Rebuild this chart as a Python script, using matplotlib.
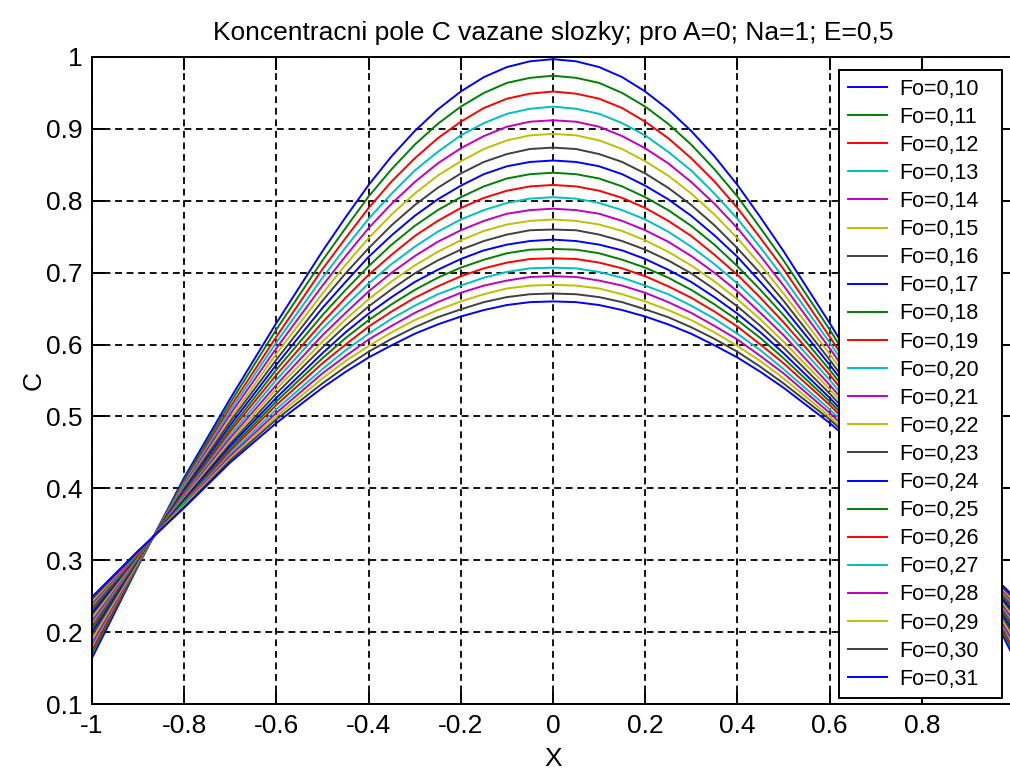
import numpy as np
import matplotlib
matplotlib.use('Agg')
import matplotlib.pyplot as plt

plt.rcParams['font.family'] = ['Liberation Sans', 'DejaVu Sans']

# x positions of the read values (left half, profile is symmetric about x=0)
x_half = [-1.0, -0.9, -0.8, -0.7, -0.6, -0.5, -0.45, -0.4, -0.35, -0.3,
          -0.25, -0.2, -0.15, -0.1, -0.05, 0.0]

fo_labels = ['Fo=0,10', 'Fo=0,11', 'Fo=0,12', 'Fo=0,13', 'Fo=0,14', 'Fo=0,15',
             'Fo=0,16', 'Fo=0,17', 'Fo=0,18', 'Fo=0,19', 'Fo=0,20', 'Fo=0,21',
             'Fo=0,22', 'Fo=0,23', 'Fo=0,24', 'Fo=0,25', 'Fo=0,26', 'Fo=0,27',
             'Fo=0,28', 'Fo=0,29', 'Fo=0,30', 'Fo=0,31']

# C values read at x_half, one row per Fo
c_fo10 = [0.164, 0.292, 0.415, 0.525, 0.630, 0.730, 0.777, 0.822, 0.862, 0.897, 0.927, 0.952, 0.972, 0.986, 0.994, 0.997]
c_fo11 = [0.170, 0.293, 0.412, 0.519, 0.621, 0.717, 0.762, 0.806, 0.844, 0.878, 0.907, 0.931, 0.950, 0.964, 0.971, 0.974]
c_fo12 = [0.175, 0.295, 0.409, 0.513, 0.611, 0.705, 0.748, 0.790, 0.827, 0.859, 0.887, 0.910, 0.929, 0.942, 0.949, 0.952]
c_fo13 = [0.181, 0.296, 0.407, 0.508, 0.603, 0.693, 0.735, 0.775, 0.810, 0.842, 0.868, 0.891, 0.908, 0.921, 0.928, 0.931]
c_fo14 = [0.185, 0.297, 0.404, 0.503, 0.595, 0.682, 0.723, 0.762, 0.796, 0.826, 0.852, 0.873, 0.890, 0.903, 0.910, 0.912]
c_fo15 = [0.190, 0.298, 0.402, 0.497, 0.587, 0.671, 0.711, 0.748, 0.781, 0.810, 0.835, 0.855, 0.872, 0.884, 0.891, 0.893]
c_fo16 = [0.195, 0.300, 0.400, 0.493, 0.579, 0.661, 0.699, 0.734, 0.766, 0.794, 0.818, 0.838, 0.854, 0.865, 0.872, 0.874]
c_fo17 = [0.200, 0.301, 0.397, 0.488, 0.572, 0.651, 0.687, 0.722, 0.752, 0.779, 0.802, 0.821, 0.837, 0.848, 0.854, 0.856]
c_fo18 = [0.204, 0.302, 0.395, 0.483, 0.565, 0.641, 0.676, 0.709, 0.739, 0.765, 0.787, 0.805, 0.820, 0.831, 0.837, 0.839]
c_fo19 = [0.208, 0.303, 0.393, 0.479, 0.558, 0.631, 0.665, 0.697, 0.725, 0.751, 0.772, 0.790, 0.804, 0.814, 0.820, 0.822]
c_fo20 = [0.212, 0.304, 0.391, 0.474, 0.551, 0.622, 0.654, 0.685, 0.712, 0.736, 0.757, 0.774, 0.787, 0.797, 0.803, 0.805]
c_fo21 = [0.216, 0.305, 0.389, 0.470, 0.544, 0.613, 0.644, 0.674, 0.700, 0.723, 0.743, 0.759, 0.772, 0.782, 0.787, 0.789]
c_fo22 = [0.220, 0.306, 0.387, 0.466, 0.538, 0.604, 0.635, 0.663, 0.688, 0.710, 0.729, 0.745, 0.758, 0.767, 0.772, 0.774]
c_fo23 = [0.224, 0.307, 0.385, 0.462, 0.532, 0.596, 0.626, 0.653, 0.677, 0.699, 0.717, 0.732, 0.744, 0.753, 0.759, 0.760]
c_fo24 = [0.227, 0.308, 0.384, 0.459, 0.526, 0.588, 0.617, 0.643, 0.666, 0.687, 0.704, 0.719, 0.731, 0.739, 0.744, 0.746]
c_fo25 = [0.231, 0.308, 0.382, 0.455, 0.521, 0.581, 0.609, 0.634, 0.656, 0.676, 0.693, 0.707, 0.718, 0.727, 0.732, 0.733]
c_fo26 = [0.234, 0.309, 0.380, 0.452, 0.516, 0.574, 0.600, 0.625, 0.646, 0.665, 0.681, 0.695, 0.706, 0.714, 0.719, 0.720]
c_fo27 = [0.237, 0.310, 0.379, 0.448, 0.510, 0.566, 0.592, 0.615, 0.636, 0.654, 0.670, 0.682, 0.693, 0.701, 0.706, 0.707]
c_fo28 = [0.240, 0.311, 0.377, 0.445, 0.505, 0.560, 0.584, 0.607, 0.626, 0.644, 0.659, 0.672, 0.682, 0.689, 0.694, 0.695]
c_fo29 = [0.243, 0.312, 0.376, 0.442, 0.500, 0.553, 0.577, 0.598, 0.617, 0.634, 0.648, 0.660, 0.670, 0.678, 0.682, 0.683]
c_fo30 = [0.246, 0.312, 0.374, 0.439, 0.496, 0.546, 0.569, 0.590, 0.608, 0.624, 0.638, 0.649, 0.659, 0.666, 0.670, 0.671]
c_fo31 = [0.249, 0.313, 0.373, 0.436, 0.491, 0.540, 0.562, 0.582, 0.599, 0.615, 0.628, 0.639, 0.648, 0.655, 0.659, 0.660]

curves = [c_fo10, c_fo11, c_fo12, c_fo13, c_fo14, c_fo15, c_fo16, c_fo17,
          c_fo18, c_fo19, c_fo20, c_fo21, c_fo22, c_fo23, c_fo24, c_fo25,
          c_fo26, c_fo27, c_fo28, c_fo29, c_fo30, c_fo31]

# old matlab colour order
colors = [(0, 0, 1), (0, 0.5, 0), (1, 0, 0), (0, 0.75, 0.75),
          (0.75, 0, 0.75), (0.75, 0.75, 0), (0.25, 0.25, 0.25)]

fig = plt.figure(figsize=(10.10, 7.69), dpi=100)
ax = fig.add_axes([92 / 1010, 1 - 704 / 769, 922 / 1010, 647 / 769])

xh = np.array(x_half)
x_full = np.concatenate([xh, -xh[-2::-1]])
for i, c in enumerate(curves):
    c = np.array(c)
    c_full = np.concatenate([c, c[-2::-1]])
    ax.plot(x_full, c_full, color=colors[i % 7], lw=1.4, label=fo_labels[i])

ax.set_xlim(-1, 1)
ax.set_ylim(0.1, 1)
xt = np.arange(-1, 1.01, 0.2)
ax.set_xticks(xt)
# the "1" label falls outside the picture
ax.set_xticklabels(['-1', '-0.8', '-0.6', '-0.4', '-0.2', '0', '0.2', '0.4', '0.6', '0.8', ''])
yt = np.arange(0.1, 1.01, 0.1)
ax.set_yticks(yt)
ax.set_yticklabels(['0.1', '0.2', '0.3', '0.4', '0.5', '0.6', '0.7', '0.8', '0.9', '1'])
ax.tick_params(direction='in', length=9, width=1.4, labelsize=19, pad=7,
               top=True, right=True, colors='black')
ax.grid(True, color='black', linestyle=(0, (3.8, 2.6)), lw=1.3)
for s in ax.spines.values():
    s.set_linewidth(1.4)

ax.set_title('Koncentracni pole C vazane slozky; pro A=0; Na=1; E=0,5', fontsize=19, pad=12)
ax.set_xlabel('X', fontsize=19)
ax.set_ylabel('C', fontsize=19)
ax.xaxis.set_label_coords(0.5, -0.066)
ax.yaxis.set_label_coords(-0.050, 0.5)

leg = ax.legend(loc='upper left',
                bbox_to_anchor=(839 / 1010, 1 - 693 / 769, 163 / 1010, 623 / 769),
                bbox_transform=fig.transFigure, mode='expand', borderaxespad=0,
                fontsize=15.5, handlelength=1.85, handletextpad=0.55,
                labelspacing=0.33, borderpad=0.4, fancybox=False, framealpha=1,
                edgecolor='black')
leg.get_frame().set_linewidth(1.4)

fig.savefig('out.png', dpi=100)
